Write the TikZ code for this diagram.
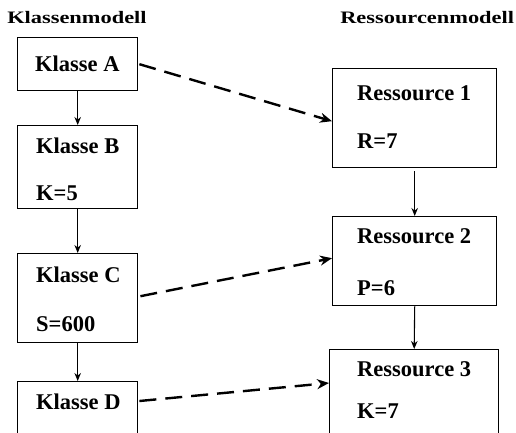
\documentclass[tikz,border=0pt]{standalone}
\usepackage{fontspec}
\setmainfont{Liberation Serif}
\usetikzlibrary{arrows.meta}
\begin{document}
\begin{tikzpicture}[x=1pt, y=-1pt,
  box/.style={draw, line width=1.4pt, rectangle, inner sep=0pt, anchor=north west},
  lbl/.style={inner sep=0pt, anchor=base west, font=\bfseries\fontsize{22.5}{27}\selectfont},
  heading/.style={inner sep=0pt, anchor=base west, xscale=1.28, font=\bfseries\fontsize{17.5}{20}\selectfont},
  flow/.style={line width=1.1pt, -{Stealth[length=8pt, width=6.5pt]}},
  link/.style={line width=2.4pt, dash pattern=on 17pt off 9pt, -{Stealth[length=12pt, width=10pt]}}]
  \useasboundingbox (0,0) rectangle (516,433);
  \clip (0,0) rectangle (516,433);

  % column headings
  \node[heading] (hk) at (7,24) {Klassenmodell};
  \node[heading] (hr) at (340,24) {Ressourcenmodell};

  % class model boxes
  \node[box, minimum width=120pt, minimum height=53pt] (A) at (17,37) {};
  \node[box, minimum width=120pt, minimum height=83pt] (B) at (17,125) {};
  \node[box, minimum width=120pt, minimum height=89pt] (C) at (17,253) {};
  \node[box, minimum width=120pt, minimum height=89pt] (D) at (17,381) {};

  % resource model boxes
  \node[box, minimum width=164pt, minimum height=99pt] (R1) at (332,68) {};
  \node[box, minimum width=164pt, minimum height=89pt] (R2) at (332,216) {};
  \node[box, minimum width=169pt, minimum height=99pt] (R3) at (329,349) {};

  % labels
  \node[lbl] (ta) at (35,72) {Klasse A};
  \node[lbl] (tb) at (36,153) {Klasse B};
  \node[lbl] (tb2) at (36,200) {K=5};
  \node[lbl] (tc) at (36,282) {Klasse C};
  \node[lbl] (tc2) at (36,331) {S=600};
  \node[lbl] (td) at (36,409) {Klasse D};
  \node[lbl] (t1) at (357,101) {Ressource 1};
  \node[lbl] (t12) at (357,148) {R=7};
  \node[lbl] (t2) at (357,243) {Ressource 2};
  \node[lbl] (t22) at (357,295) {P=6};
  \node[lbl] (t3) at (357,376) {Ressource 3};
  \node[lbl] (t32) at (357,418) {K=7};

  % inheritance chain and resource chain
  \draw[flow] (A.south) -- (B.north);
  \draw[flow] (B.south) -- (C.north);
  \draw[flow] (C.south) -- (D.north);
  \draw[flow, shorten <=3pt] (R1.south) -- (R2.north);
  \draw[flow] (R2.south) -- (R3.north);

  % mappings from classes to resources
  \draw[link] ([xshift=1pt]A.east) -- ([yshift=-3pt]R1.west);
  \draw[link] ([xshift=2pt,yshift=2pt]C.east) -- ([yshift=3pt]R2.west);
  \draw[link] ([xshift=1pt,yshift=-20pt]D.north east) -- ([yshift=-34pt]R3.north west);
\end{tikzpicture}
\end{document}
